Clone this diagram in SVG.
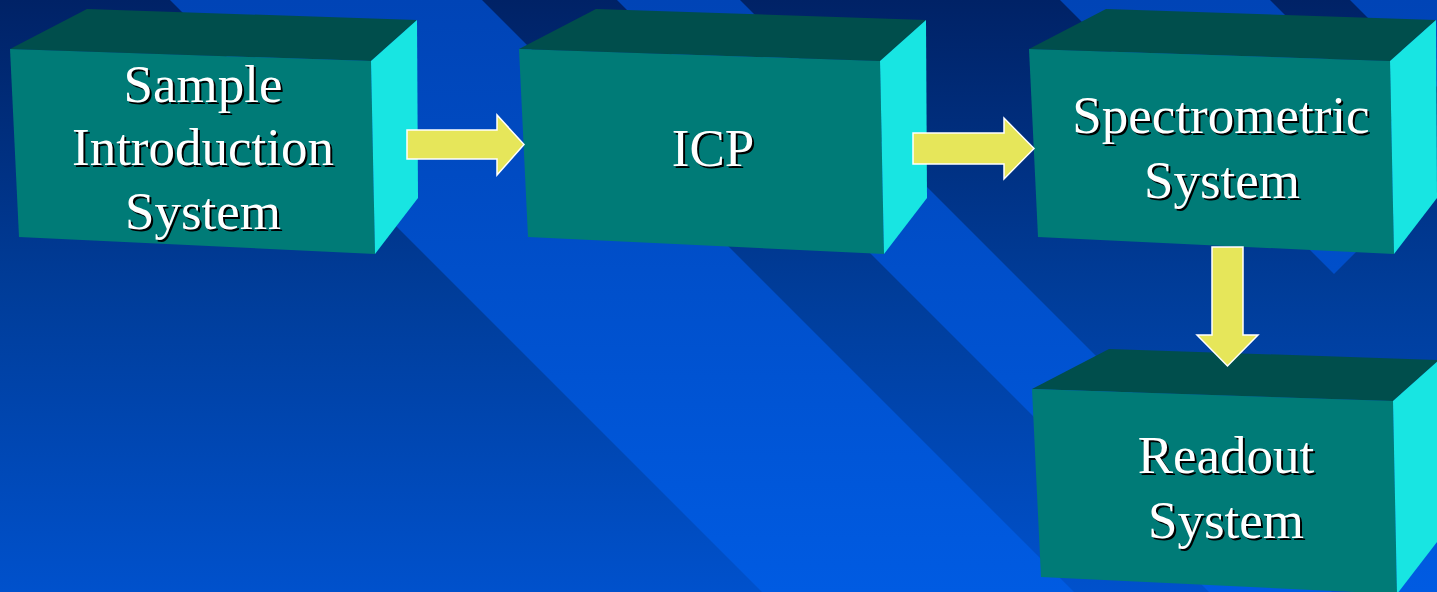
<svg xmlns="http://www.w3.org/2000/svg" xmlns:xlink="http://www.w3.org/1999/xlink" width="1437" height="592" viewBox="0 0 1437 592">
  <defs>
    <linearGradient id="bgDark" x1="0" y1="0" x2="0" y2="592" gradientUnits="userSpaceOnUse">
      <stop offset="0" stop-color="#002266"/>
      <stop offset="0.5" stop-color="#003d9a"/>
      <stop offset="1" stop-color="#0051cc"/>
    </linearGradient>
    <linearGradient id="bgLight" x1="0" y1="0" x2="0" y2="592" gradientUnits="userSpaceOnUse">
      <stop offset="0" stop-color="#0044b6"/>
      <stop offset="0.5" stop-color="#0050cc"/>
      <stop offset="1" stop-color="#005be2"/>
    </linearGradient>
    <!-- one 3D block: top, front and right faces -->
    <g id="block">
      <polygon class="top" points="87,9 417,20 371,61 10,49"/>
      <polygon class="front" points="10,49 371,61 375,254 19,237"/>
      <polygon class="side" points="371,61 417,20 418,198 375,254"/>
    </g>
    <style>
      .top { fill: #004e4c; }
      .front { fill: #007b77; }
      .side { fill: #18e5e2; }
      .band { fill: url(#bgLight); }
      .arrow { fill: #e6e65a; stroke: #ffffff; stroke-width: 1.5; stroke-linejoin: miter; }
      .label { font-family: "Liberation Serif", "Times New Roman", serif; font-size: 53px; text-anchor: middle; }
      .label .shadow { fill: #000000; }
      .label .face { fill: #ffffff; }
    </style>
  </defs>

  <!-- background with diagonal bands -->
  <g id="background">
    <rect x="0" y="0" width="1437" height="592" fill="url(#bgDark)"/>
    <polygon class="band" points="170,0 482,0 1074,592 762,592"/>
    <polygon class="band" points="617,0 740,0 1332,592 1209,592"/>
    <polygon class="band" points="1060,0 1270,0 1439,169 1334,274"/>
    <polygon class="band" points="1350,0 1437,0 1437,87"/>
    <polygon class="band" points="1437,500 1437,592 1350,592"/>
  </g>

  <g id="node-sample-introduction">
    <use xlink:href="#block"/>
    <g class="label">
      <g class="shadow" transform="translate(2,2)">
        <text x="203" y="102">Sample</text>
        <text x="203" y="165">Introduction</text>
        <text x="203" y="229">System</text>
      </g>
      <g class="face">
        <text x="203" y="102">Sample</text>
        <text x="203" y="165">Introduction</text>
        <text x="203" y="229">System</text>
      </g>
    </g>
  </g>

  <g id="node-icp">
    <use xlink:href="#block" transform="translate(509,0)"/>
    <g class="label">
      <text class="shadow" x="715" y="168">ICP</text>
      <text class="face" x="713" y="166">ICP</text>
    </g>
  </g>

  <g id="node-spectrometric">
    <use xlink:href="#block" transform="translate(1019,0)"/>
    <g class="label">
      <g class="shadow" transform="translate(2,2)">
        <text x="1221" y="133">Spectrometric</text>
        <text x="1222" y="198">System</text>
      </g>
      <g class="face">
        <text x="1221" y="133">Spectrometric</text>
        <text x="1222" y="198">System</text>
      </g>
    </g>
  </g>

  <g id="node-readout">
    <use xlink:href="#block" transform="translate(1022,340)"/>
    <g class="label">
      <g class="shadow" transform="translate(2,2)">
        <text x="1226" y="473">Readout</text>
        <text x="1226" y="538">System</text>
      </g>
      <g class="face">
        <text x="1226" y="473">Readout</text>
        <text x="1226" y="538">System</text>
      </g>
    </g>
  </g>

  <!-- block arrows between stages -->
  <g id="connectors">
    <polygon class="arrow" points="407,130 497,130 497,115 524,144.5 497,175 497,159 407,159"/>
    <polygon class="arrow" points="913,133 1004,133 1004,118 1034,148.5 1004,179 1004,164 913,164"/>
    <polygon class="arrow" points="1212,247 1243,247 1243,335 1258,335 1227.5,366 1197,335 1212,335"/>
  </g>
</svg>
